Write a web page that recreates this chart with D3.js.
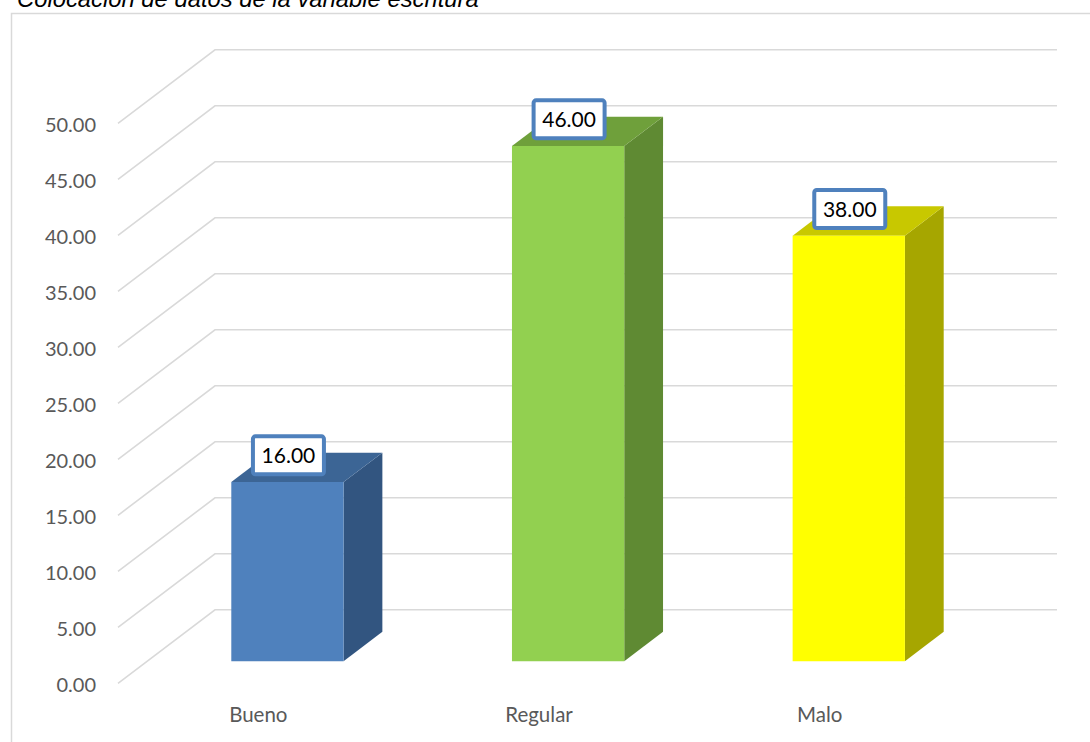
<!DOCTYPE html>
<html>
<head>
<meta charset="utf-8">
<script src="https://cdn.jsdelivr.net/npm/d3@7"></script>
<style>
  html, body { margin: 0; padding: 0; background: #fff; }
  svg { display: block; }
</style>
</head>
<body>
<svg id="chart" width="1090" height="742"></svg>
<script>
const title = "Colocación de datos de la variable escritura";
const categories = ["Bueno", "Regular", "Malo"];
const values = [16, 46, 38];
const tickValues = [0, 5, 10, 15, 20, 25, 30, 35, 40, 45, 50];
const frontColors = ["#4F81BD", "#92D050", "#FFFF00"];
const sideColors = ["#325580", "#5F8A33", "#A6A600"];
const topColors = ["#3C6595", "#6FA03B", "#C8C800"];

const svg = d3.select("#chart");

// 3D geometry
const depthX = 97, depthY = -73.5;
const barDepthStart = 0.3, barDepthEnd = 0.7;
const y = d3.scaleLinear().domain([0, 50]).range([683.3, 123.3]);
const x = d3.scaleBand().domain(categories).range([118, 960]).paddingInner(0).paddingOuter(0);
const backRight = 1057;

function P(xf, v, d) { return [xf + d * depthX, y(v) + d * depthY]; }

// chart border
svg.append("rect")
  .attr("x", 11.5).attr("y", 13.5)
  .attr("width", 1100).attr("height", 760)
  .attr("fill", "none").attr("stroke", "#D9D9D9").attr("stroke-width", 1.5);

// title
svg.append("text")
  .attr("x", 17).attr("y", 7)
  .attr("font-family", "Liberation Sans, Arial, sans-serif")
  .attr("font-style", "italic")
  .attr("font-size", 23.8)
  .attr("fill", "#000")
  .text(title);

// gridlines (side wall + back wall)
const grid = svg.append("g");
tickValues.forEach(v => {
  const a = P(118, v, 0), b = P(118, v, 1);
  grid.append("path")
    .attr("d", `M${a[0]},${a[1]}L${b[0]},${b[1]}L${backRight},${b[1]}`)
    .attr("fill", "none").attr("stroke", "#D9D9D9").attr("stroke-width", 1.6);
});

// y axis labels
const yAxis = d3.axisLeft(y).tickValues(tickValues).tickFormat(d3.format(".2f")).tickSize(0).tickPadding(22);
const ax = svg.append("g").attr("transform", "translate(118,1.5)").call(yAxis);
ax.select(".domain").remove();
ax.selectAll("text")
  .attr("font-family", "Lato, sans-serif").attr("font-size", 20).attr("fill", "#595959");

// bars
const bw = x.bandwidth() * 0.4;
const bars = svg.append("g");
categories.forEach((c, i) => {
  const v = values[i];
  const cx = x(c) + x.bandwidth() / 2;
  const x0 = cx - bw / 2, x1 = cx + bw / 2;
  const d0 = barDepthStart, d1 = barDepthEnd;
  const fbl = P(x0, 0, d0), fbr = P(x1, 0, d0), ftl = P(x0, v, d0), ftr = P(x1, v, d0);
  const bbr = P(x1, 0, d1), btl = P(x0, v, d1), btr = P(x1, v, d1);
  // side
  bars.append("path")
    .attr("d", `M${fbr}L${bbr}L${btr}L${ftr}Z`)
    .attr("fill", sideColors[i]);
  // top
  bars.append("path")
    .attr("d", `M${ftl}L${ftr}L${btr}L${btl}Z`)
    .attr("fill", topColors[i]);
  // front
  bars.append("path")
    .attr("d", `M${fbl}L${fbr}L${ftr}L${ftl}Z`)
    .attr("fill", frontColors[i]);

  // data label
  const lx = cx + barDepthStart * depthX + 1;
  const ly = ftl[1] - 26.7;
  const g = svg.append("g").attr("transform", `translate(${lx},${ly})`);
  g.append("rect")
    .attr("x", -35.5).attr("y", -19).attr("width", 71).attr("height", 38)
    .attr("rx", 2.5)
    .attr("fill", "#fff").attr("stroke", "#4F81BD").attr("stroke-width", 4);
  g.append("text")
    .attr("text-anchor", "middle").attr("dy", "0.36em")
    .attr("font-family", "Lato, sans-serif").attr("font-size", 21)
    .attr("fill", "#000")
    .text(d3.format(".2f")(v));
});

// category labels
svg.append("g").selectAll("text").data(categories).join("text")
  .attr("x", d => x(d) + x.bandwidth() / 2)
  .attr("y", 722)
  .attr("text-anchor", "middle")
  .attr("font-family", "Lato, sans-serif").attr("font-size", 20.5)
  .attr("fill", "#595959")
  .text(d => d);
</script>
</body>
</html>
